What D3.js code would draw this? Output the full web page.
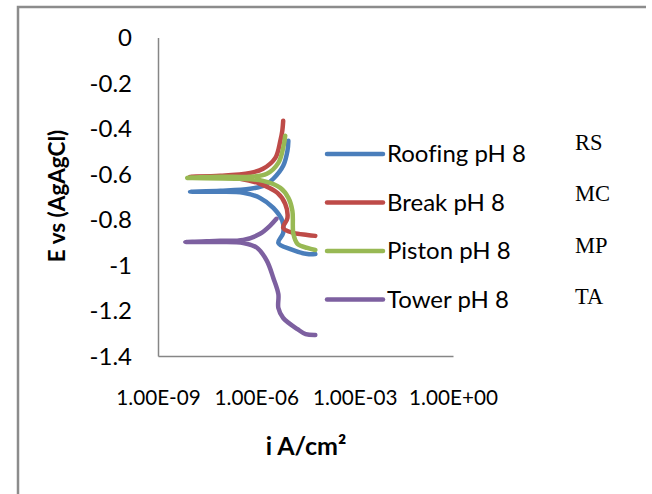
<!DOCTYPE html>
<html>
<head>
<meta charset="utf-8">
<script src="https://cdn.jsdelivr.net/npm/d3@7"></script>
<style>
  html, body { margin: 0; padding: 0; background: #fff; }
  svg { display: block; }
  text { font-variant-ligatures: none; }
</style>
</head>
<body>
<div id="chart"></div>
<script>
// current density (A/cm2) and potential (V vs Ag/AgCl)
const roofingI = [6.3e-5, 3.6e-5, 1.1e-5, 4.7e-6, 6.6e-6, 6.2e-6, 3.3e-6, 1.3e-6, 4.0e-7, 8.0e-8, 9.5e-9, 8.0e-8, 6.5e-7, 1.9e-6, 3.3e-6, 6.6e-6, 8.9e-6, 9.5e-6]
const roofingE = [-0.952, -0.952, -0.93, -0.903, -0.859, -0.806, -0.749, -0.705, -0.683, -0.678, -0.678, -0.674, -0.665, -0.648, -0.621, -0.564, -0.498, -0.454]

const breakI = [6.3e-5, 3.6e-5, 1.35e-5, 6.6e-6, 8.9e-6, 7.6e-6, 4.4e-6, 1.3e-6, 3.2e-7, 3.9e-8, 9.5e-9, 7.9e-8, 6.5e-7, 1.6e-6, 3.8e-6, 5.4e-6, 6.2e-6, 6.6e-6]
const breakE = [-0.872, -0.868, -0.859, -0.837, -0.793, -0.731, -0.683, -0.643, -0.621, -0.612, -0.612, -0.608, -0.595, -0.577, -0.529, -0.454, -0.41, -0.366]

const pistonI = [6.3e-5, 3.6e-5, 1.8e-5, 1.35e-5, 1.26e-5, 9.5e-6, 5.4e-6, 1.6e-6, 3.2e-7, 7.8e-9, 7.9e-8, 6.5e-7, 2.1e-6, 4.7e-6, 6.6e-6, 7.6e-6]
const pistonE = [-0.934, -0.925, -0.907, -0.863, -0.762, -0.705, -0.661, -0.63, -0.621, -0.617, -0.612, -0.612, -0.599, -0.551, -0.485, -0.432]

const towerI = [6.3e-5, 3.2e-5, 1.8e-5, 6.6e-6, 4.7e-6, 4.7e-6, 3.3e-6, 2.1e-6, 1.07e-6, 4.0e-7, 5.5e-8, 6.8e-9, 5.5e-8, 4.0e-7, 1.3e-6, 2.6e-6, 4.1e-6]
const towerE = [-1.308, -1.304, -1.282, -1.233, -1.189, -1.128, -1.057, -0.982, -0.925, -0.903, -0.899, -0.899, -0.894, -0.89, -0.863, -0.828, -0.797]

const seriesNames = ['Roofing pH 8', 'Break pH 8', 'Piston pH 8', 'Tower pH 8']
const sampleCodes = ['RS', 'MC', 'MP', 'TA']
const xTicks = [1e-9, 1e-6, 1e-3, 1]
const xTickLabels = ['1.00E-09', '1.00E-06', '1.00E-03', '1.00E+00']
const yTicks = [0, -0.2, -0.4, -0.6, -0.8, -1, -1.2, -1.4]
const yTickLabels = ['0', '-0.2', '-0.4', '-0.6', '-0.8', '-1', '-1.2', '-1.4']

const colors = ['#4a7ebb', '#be4b48', '#98b954', '#7d60a0']

const width = 652
const height = 494
const margin = { top: 37.5, left: 158, right: 199, bottom: 138 }

const svg = d3.select('#chart')
	.append('svg')
	.attr('width', width)
	.attr('height', height)

// outer chart frame (cut off by the picture on right and bottom)
svg.append('path')
	.attr('d', `M18,${height} V7 H646`)
	.attr('fill', 'none')
	.attr('stroke', '#8c8c8c')
	.attr('stroke-width', 2.5)

const x = d3.scaleLog()
	.domain([1e-9, 1])
	.range([margin.left, width - margin.right])

const y = d3.scaleLinear()
	.domain([-1.4, 0])
	.range([height - margin.bottom, margin.top])

const font = 'Lato, "Open Sans", sans-serif'

// axes
const xAxis = svg.append('g')
	.attr('transform', `translate(0,${y(-1.4)})`)
	.call(d3.axisBottom(x).tickValues(xTicks).tickSize(0).tickFormat((d, i) => xTickLabels[i]))
xAxis.select('.domain').attr('stroke', '#868686').attr('stroke-width', 1.5)
xAxis.selectAll('text')
	.attr('dy', 0)
	.attr('y', 49)
	.attr('fill', '#000')
	.style('font-family', font)
	.style('font-size', '20.7px')

const yAxis = svg.append('g')
	.attr('transform', `translate(${x(1e-9)},0)`)
	.call(d3.axisLeft(y).tickValues(yTicks).tickSize(0).tickFormat((d, i) => yTickLabels[i]))
yAxis.select('.domain').attr('stroke', '#868686').attr('stroke-width', 1.5)
yAxis.selectAll('text')
	.attr('x', -26)
	.attr('dy', '0.35em')
	.attr('fill', '#000')
	.style('font-family', font)
	.style('font-size', '24px')

// axis titles
svg.append('text')
	.attr('x', 306)
	.attr('y', 455)
	.attr('text-anchor', 'middle')
	.style('font-family', font)
	.style('font-weight', 'bold')
	.style('font-size', '25px')
	.text('i A/cm²')

svg.append('text')
	.attr('transform', 'translate(65,196) rotate(-90)')
	.attr('text-anchor', 'middle')
	.style('font-family', font)
	.style('font-weight', 'bold')
	.style('font-size', '22.5px')
	.text('E vs (AgAgCl)')

// curves
const series = [
	{ i: roofingI, e: roofingE },
	{ i: breakI, e: breakE },
	{ i: pistonI, e: pistonE },
	{ i: towerI, e: towerE },
]

const line = d3.line()
	.x(d => x(d[0]))
	.y(d => y(d[1]))
	.curve(d3.curveCatmullRom.alpha(0.5))

svg.append('g')
	.selectAll('path')
	.data(series)
	.join('path')
	.attr('d', d => line(d.i.map((v, k) => [v, d.e[k]])))
	.attr('fill', 'none')
	.attr('stroke', (d, k) => colors[k])
	.attr('stroke-width', 4.5)
	.attr('stroke-linecap', 'round')
	.attr('stroke-linejoin', 'round')

// legend
const legend = svg.append('g')
	.selectAll('g')
	.data(seriesNames)
	.join('g')
	.attr('transform', (d, k) => `translate(327,${154 + k * 48.5})`)

legend.append('line')
	.attr('x1', 0)
	.attr('x2', 56)
	.attr('stroke', (d, k) => colors[k])
	.attr('stroke-width', 4.5)
	.attr('stroke-linecap', 'round')

legend.append('text')
	.attr('x', 60)
	.attr('y', 8)
	.style('font-family', font)
	.style('font-size', '24px')
	.text(d => d)

// sample codes on the right
svg.append('g')
	.selectAll('text')
	.data(sampleCodes)
	.join('text')
	.attr('x', 575)
	.attr('y', (d, k) => 150 + k * 51.3)
	.style('font-family', '"Liberation Serif", "Times New Roman", serif')
	.style('font-size', '22.5px')
	.text(d => d)
</script>
</body>
</html>
